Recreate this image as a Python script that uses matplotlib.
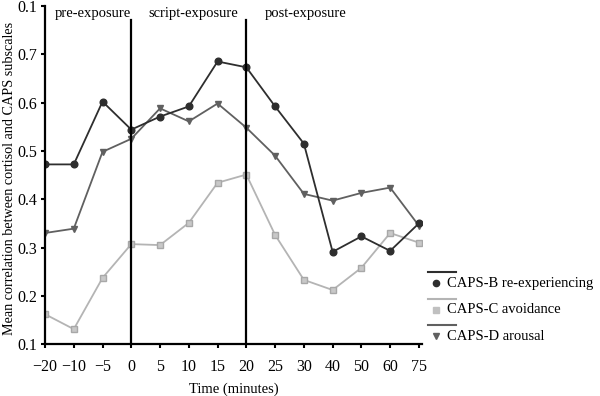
import matplotlib.pyplot as plt
from matplotlib.lines import Line2D

plt.rcParams['font.family'] = ['Liberation Serif', 'DejaVu Serif']

times = ['\u221220', '\u221210', '\u22125', '0', '5', '10', '15', '20',
         '25', '30', '40', '50', '60', '75']
caps_b = [0.472, 0.472, 0.602, 0.544, 0.571, 0.592, 0.685, 0.673,
          0.592, 0.515, 0.291, 0.323, 0.293, 0.350]
caps_c = [0.162, 0.131, 0.237, 0.307, 0.305, 0.351, 0.434, 0.451,
          0.326, 0.233, 0.212, 0.258, 0.330, 0.310]
caps_d = [0.330, 0.339, 0.498, 0.525, 0.588, 0.561, 0.598, 0.548,
          0.490, 0.411, 0.397, 0.413, 0.424, 0.345]
yticks = [0.1, 0.2, 0.3, 0.4, 0.5, 0.6, 0.7, 0.8]
ylabels = ['0.1', '0.2', '0.3', '0.4', '0.5', '0.6', '0.7', '0.1']
phases = ['pre-exposure', 'script-exposure', 'post-exposure']
series_names = ['CAPS-B re-experiencing', 'CAPS-C avoidance', 'CAPS-D arousal']

col_b = '#2e2e2e'
col_c = '#b4b4b4'
col_d = '#606060'

fig = plt.figure(figsize=(6, 3.96), dpi=100)
ax = fig.add_axes([0.075, 0.131, 0.628, 0.854])
x = list(range(len(times)))

ax.plot(x, caps_c, color=col_c, lw=1.3, marker='s', ms=4.5, mfc='#c8c8c8', mec='#a8a8a8')
ax.plot(x, caps_d, color=col_d, lw=1.3, marker='v', ms=5, mfc=col_d, mec=col_d)
ax.plot(x, caps_b, color=col_b, lw=1.3, marker='o', ms=4.8, mfc=col_b, mec=col_b)

# phase boundaries at 0 and 20 minutes
for t in ['0', '20']:
    ax.plot([times.index(t)] * 2, [0.1, 0.77], color='black', lw=1.6)
for name, xc in zip(phases, [1.66, 5.15, 9.05]):
    ax.text(xc, 0.785, name, ha='center', va='center', fontsize=10.5)

ax.set_xlim(0, 13.1)
ax.set_ylim(0.1, 0.8)
ax.set_xticks(x)
ax.set_xticklabels(times, fontsize=11.5)
ax.set_yticks(yticks)
ax.set_yticklabels(ylabels, fontsize=11.5)
ax.tick_params(direction='out', length=3, width=1.5)
ax.tick_params(axis='y', pad=2.5)
ax.tick_params(axis='x', pad=8)
for s in ['top', 'right']:
    ax.spines[s].set_visible(False)
for s in ['left', 'bottom']:
    ax.spines[s].set_linewidth(1.6)
ax.set_xlabel('Time (minutes)', fontsize=10.5, labelpad=5)
ax.set_ylabel('Mean correlation between cortisol and CAPS subscales', fontsize=10.2)
ax.yaxis.set_label_coords(-0.077, 0.49)

# legend drawn by hand: line above each marker entry
W, H = 600.0, 396.0
leg = [(col_b, 'o', '#2e2e2e'), (col_c, 's', '#c0c0c0'), (col_d, 'v', col_d)]
for i, (name, (lc, mk, mc)) in enumerate(zip(series_names, leg)):
    ly = 272 + i * 26.5
    fig.add_artist(Line2D([428 / W, 456 / W], [1 - ly / H] * 2, color=lc, lw=1.5))
    fig.add_artist(Line2D([436 / W], [1 - (ly + 11) / H], marker=mk, ms=4.5,
                          color=mc, mec=mc, ls='none'))
    fig.text(447 / W, 1 - (ly + 11) / H, name, ha='left', va='center', fontsize=10.5)

fig.savefig('out.png', dpi=100)
